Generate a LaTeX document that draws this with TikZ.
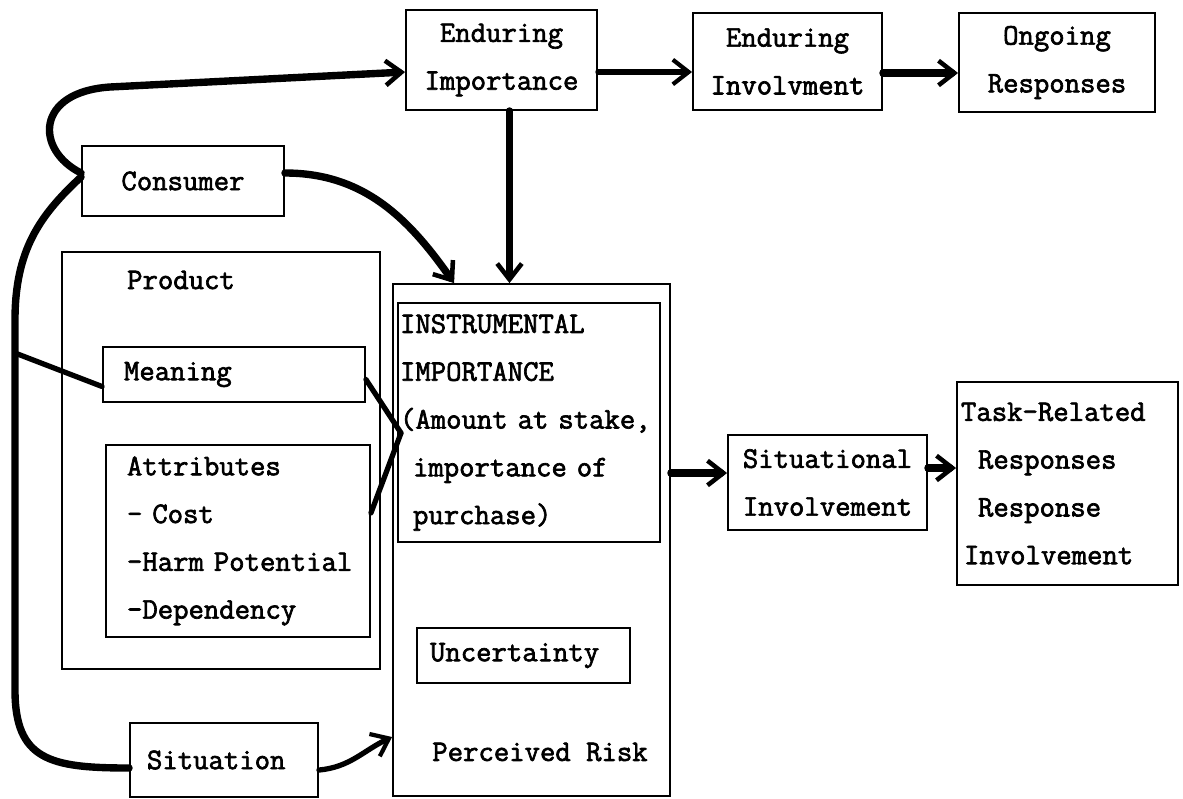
\documentclass[tikz,border=0pt]{standalone}
\usepackage{fontspec}
\newfontfamily\typewriter{Latin Modern Mono}[FakeBold=2.2]
\usetikzlibrary{arrows.meta,calc}
% typewriter text: fixed pitch, spaces as wide as a letter
\newcommand\diagfont{\typewriter\fontsize{17}{27.2}\selectfont\spaceskip=\fontcharwd\font`x\relax}
\hyphenpenalty=10000
\exhyphenpenalty=10000
\hbadness=10000
\hfuzz=100pt
\begin{document}
\begin{tikzpicture}[x=0.02cm,y=-0.02cm,
  box/.style={draw, line width=1.1pt, inner sep=0pt, font=\diagfont},
  lbl/.style={font=\diagfont, inner sep=0pt},
  link/.style={line width=4.2pt, line cap=round, line join=round},
  thin link/.style={line width=3pt, line cap=round, line join=round},
  arr/.style={link, -{Straight Barb[length=9pt,width=14pt,line width=2.6pt]}},
  thin arr/.style={thin link, -{Straight Barb[length=9pt,width=14pt,line width=2.4pt]}},
]
\useasboundingbox (0,0) rectangle (1183,798);

% top row
\node[box, minimum width=3.82cm, minimum height=2cm, align=center] (EI) at (501.5,60) {Enduring\\Importance};
\node[box, minimum width=3.78cm, minimum height=1.94cm, align=center] (EInv) at (787.5,61.5) {Enduring\\Involvment};
\node[box, minimum width=3.92cm, minimum height=1.98cm, align=center] (Ongoing) at (1057,62.5) {Ongoing\\Responses};

% left column
\node[box, minimum width=4.04cm, minimum height=1.4cm] (Consumer) at (183,181) {Consumer};
\node[box, minimum width=6.36cm, minimum height=8.34cm] (Product) at (221,460.5) {};
\node[lbl] (ProductLbl) at (181,280) {Product};
\node[box, minimum width=5.24cm, minimum height=1.1cm, text width=4.4cm, inner xsep=0.42cm, align=left] (Meaning) at (234,374.5) {Meaning};
\node[box, minimum width=5.28cm, minimum height=3.84cm, text width=4.44cm, inner xsep=0.42cm, align=left] (Attributes) at (238,541)
  {Attributes\\-~Cost\\-Harm~Potential\\-Dependency};
\node[box, minimum width=3.76cm, minimum height=1.48cm, text width=3.08cm, inner xsep=0.34cm, align=left] (Situation) at (224,760) {Situation};

% perceived risk column
\node[box, minimum width=5.54cm, minimum height=10.24cm] (Big) at (531.5,540) {};
\node[box, minimum width=5.24cm, minimum height=4.78cm, text width=5.16cm, inner xsep=0.04cm, align=left] (Instr) at (529,422.5)
  {INSTRUMENTAL\\IMPORTANCE\\(Amount~at~stake,\\\hspace*{0.26cm}importance~of\\\hspace*{0.26cm}purchase)};
\node[box, minimum width=4.26cm, minimum height=1.1cm, text width=3.74cm, inner xsep=0.26cm, align=left] (Uncert) at (523.5,655.5) {Uncertainty};
\node[lbl] (RiskLbl) at (540,752) {Perceived Risk};

% right side
\node[box, minimum width=3.98cm, minimum height=1.9cm, align=center] (SitInv) at (827.5,482.5) {Situational\\Involvement};
\node[box, minimum width=4.42cm, minimum height=4.06cm, text width=4.26cm, inner xsep=0.08cm, align=left] (Task) at (1067.5,483.5)
  {Task-Related\\\hspace*{0.34cm}Responses\\\hspace*{0.34cm}Response\\\hspace*{0.06cm}Involvement};

% junction points
\coordinate (mj) at (15,353);
\coordinate (jn) at (401,433);

% top row arrows
\draw[thin arr] ($(EI.east)+(0,12)$) -- ($(EI.east -| EInv.west)+(0,12)$);
\draw[arr] ($(EInv.east)+(0,11.5)$) -- ($(EInv.east -| Ongoing.west)+(0,11.5)$);
\draw[arr] ($(EI.south)+(8,0)$) -- ($(EI.south |- Big.north)+(8,0)$);

% consumer links
\draw[arr] ($(Consumer.west)+(0,-8)$) .. controls (35,150) and (35,92) .. (110,87) -- ($(EI.west)+(0,12)$);
\draw[arr] ($(Consumer.east)+(0,-8)$) to[out=0,in=125] ($(Big.north west)+(62,0)$);
\draw[link] ($(Consumer.west)+(0,-4)$) .. controls (40,215) and (15,250) .. (15,320) -- (mj) -- (15,690)
  .. controls (15,760) and (50,768) .. ($(Situation.west)+(0,8)$);
\draw[thin link] ($(Meaning.west)+(0,12)$) -- (mj);

% product details converge on instrumental importance
\draw[thin link] ($(Meaning.east)+(0,5)$) -- (jn);
\draw[thin link] ($(Attributes.east)+(0,-28)$) -- (jn);

% situation to perceived risk
\draw[thin arr] ($(Situation.east)+(0,10)$) to[out=5,in=205] ($(Big.west)+(0,197)$);

% outcome chain
\draw[arr] ($(Big.east |- SitInv.west)+(0,-9.5)$) -- ($(SitInv.west)+(0,-9.5)$);
\draw[arr] ($(SitInv.east)+(0,-14.5)$) -- ($(SitInv.east -| Task.west)+(0,-14.5)$);
\end{tikzpicture}
\end{document}
